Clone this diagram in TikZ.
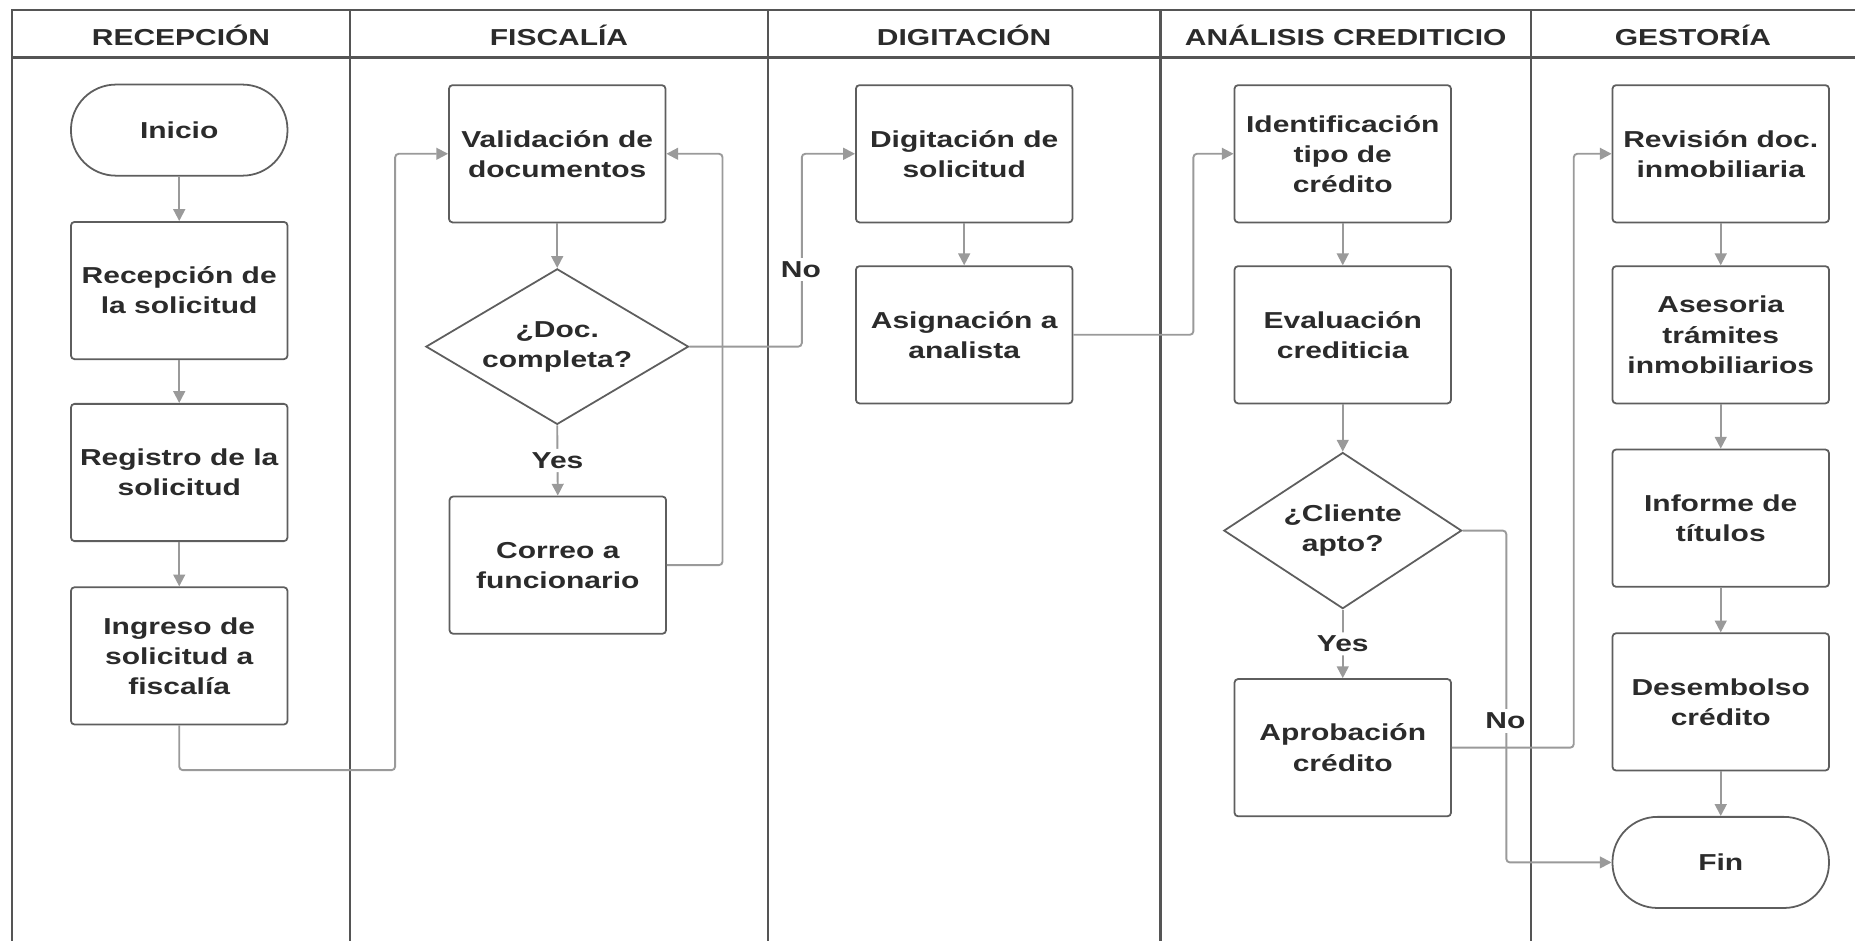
\documentclass[tikz,border=0pt]{standalone}
\usepackage{fontspec}
\setmainfont{Liberation Sans}[FakeStretch=1.3]
\usetikzlibrary{shapes.geometric,arrows.meta}
\definecolor{cframe}{HTML}{555555}
\definecolor{cnode}{HTML}{5E5E5E}
\definecolor{cconn}{HTML}{9A9A9A}
\definecolor{ctext}{HTML}{2B2B2B}
\begin{document}
\begin{tikzpicture}[x=0.5pt,y=-0.5pt,
  every node/.style={text=ctext,font=\fontsize{9.75pt}{12.7pt}\selectfont\bfseries},
  lane/.style={draw=cframe,line width=1pt},
  box/.style={draw=cnode,line width=0.75pt,rounded corners=1.5pt,align=center,inner sep=0pt,
    minimum width=91.5pt,minimum height=58pt},
  term/.style={draw=cnode,line width=0.75pt,rounded corners=19pt,align=center,inner sep=0pt,
    minimum width=91.5pt,minimum height=38.5pt},
  dec/.style={draw=cnode,line width=0.75pt,diamond,align=center,inner sep=0pt,aspect=1.6},
  conn/.style={draw=cconn,line width=0.8pt,rounded corners=1.5pt,-{Triangle[length=5pt,width=5pt]}},
  lbl/.style={fill=white,inner sep=1.5pt}]
\useasboundingbox (0,0) rectangle (1568,795);
\begin{scope}
\clip (0,0) rectangle (1568,795);
% frame and lanes
\draw[lane] (1570,8.5) -- (10,8.5) -- (10,800);
\draw[lane] (10,48.5) -- (1570,48.5);
\draw[lane] (296,8.5) -- (296,800);
\draw[lane] (649,8.5) -- (649,800);
\draw[lane] (981,8.5) -- (981,800);
\draw[lane] (1294,8.5) -- (1294,800);
\end{scope}
% headers
\node (h1) at (153,30) {RECEPCIÓN};
\node (h2) at (472.5,30) {FISCALÍA};
\node (h3) at (815,30) {DIGITACIÓN};
\node (h4) at (1137.5,30) {ANÁLISIS CREDITICIO};
\node (h5) at (1431,30) {GESTORÍA};
% lane 1
\node[term] (inicio) at (151.5,110) {Inicio};
\node[box] (recep) at (151.5,245.6) {Recepción de\\la solicitud};
\node[box] (registro) at (151.5,399.4) {Registro de la\\solicitud};
\node[box] (ingreso) at (151.5,554.4) {Ingreso de\\solicitud a\\fiscalía};
% lane 2
\node[box] (valid) at (471,130) {Validación de\\documentos};
\node[dec,minimum width=111pt,minimum height=65.75pt] (docd) at (471,293) {¿Doc.\\completa?};
\node[box] (correo) at (471.5,477.7) {Correo a\\funcionario};
% lane 3
\node[box] (digit) at (815,130) {Digitación de\\solicitud};
\node[box] (asign) at (815,283) {Asignación a\\analista};
% lane 4
\node[box] (ident) at (1135,130) {Identificación\\tipo de\\crédito};
\node[box] (eval) at (1135,283) {Evaluación\\crediticia};
\node[dec,minimum width=100.5pt,minimum height=66pt] (clid) at (1135,448.5) {¿Cliente\\apto?};
\node[box] (aprob) at (1135,632) {Aprobación\\crédito};
% lane 5
\node[box] (revis) at (1454.5,130) {Revisión doc.\\inmobiliaria};
\node[box] (asesor) at (1454.5,283) {Asesoria\\trámites\\inmobiliarios};
\node[box] (informe) at (1454.5,438) {Informe de\\títulos};
\node[box] (desemb) at (1454.5,593.3) {Desembolso\\crédito};
\node[term] (fin) at (1454.5,729) {Fin};
% connectors
\draw[conn] (inicio) -- (recep);
\draw[conn] (recep) -- (registro);
\draw[conn] (registro) -- (ingreso);
\draw[conn] (ingreso.south) |- (334,651) |- (valid.west);
\draw[conn] (valid) -- (docd);
\draw[conn] (docd.south) -- node[lbl] (yes1) {Yes} (correo.north);
\draw[conn] (correo.east) -- ++(47,0) |- (valid.east);
\draw[conn] (docd.east) -- ++(95,0) |- (digit.west);
\node[lbl] (no1) at (677,227.6) {No};
\draw[conn] (digit) -- (asign);
\draw[conn] (asign.east) -- ++(101.5,0) |- (ident.west);
\draw[conn] (ident) -- (eval);
\draw[conn] (eval) -- (clid);
\draw[conn] (clid.south) -- node[lbl] (yes2) {Yes} (aprob.north);
\draw[conn] (aprob.east) -- ++(103,0) |- (revis.west);
\draw[conn] (clid.east) -- ++(37,0) |- (fin.west);
\node[lbl] (no2) at (1272.5,609.5) {No};
\draw[conn] (revis) -- (asesor);
\draw[conn] (asesor) -- (informe);
\draw[conn] (informe) -- (desemb);
\draw[conn] (desemb) -- (fin);
\end{tikzpicture}
\end{document}
